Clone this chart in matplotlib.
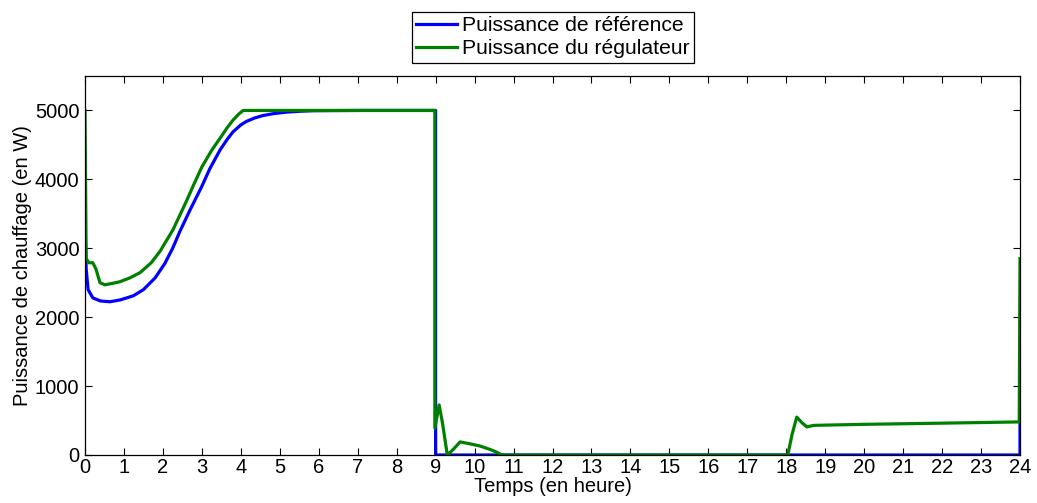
import matplotlib
matplotlib.use("Agg")
import matplotlib.pyplot as plt

# Données (temps en heure, puissance en W)
t_ref = [0, 0.03, 0.08, 0.2, 0.4, 0.64, 0.9, 1.24, 1.5, 1.8, 2.05, 2.25, 2.44, 2.7,
         3.0, 3.2, 3.47, 3.65, 3.8, 4.0, 4.14, 4.35, 4.56, 4.85, 5.16, 5.5, 5.85, 7.0,
         9.0, 9.0, 24.0, 24.0]
p_ref = [3400, 2700, 2400, 2280, 2235, 2224, 2250, 2310, 2400, 2570, 2780, 3000, 3250, 3560,
         3900, 4150, 4430, 4580, 4690, 4790, 4840, 4890, 4925, 4955, 4975, 4988, 4996, 5000,
         5000, 0, 0, 480]

t_reg = [0, 0.03, 0.1, 0.2, 0.28, 0.385, 0.51, 0.7, 0.9, 1.15, 1.41, 1.7, 1.93, 2.26,
         2.6, 2.82, 3.0, 3.25, 3.47, 3.65, 3.8, 3.95, 4.06, 8.98, 8.98, 9.09, 9.18, 9.3,
         9.45, 9.63, 9.9, 10.14, 10.4, 10.57, 10.7, 18.0, 18.04, 18.15, 18.27, 18.4, 18.53,
         18.7, 20.0, 22.0, 23.98, 24.0]
p_reg = [5000, 2850, 2790, 2790, 2700, 2500, 2470, 2490, 2515, 2570, 2645, 2790, 2960, 3270,
         3680, 3960, 4180, 4420, 4600, 4750, 4860, 4950, 5000, 5000, 390, 727, 450, 0,
         80, 190, 160, 130, 80, 40, 0, 0, 0, 300, 550, 470, 407,
         430, 445, 462, 480, 2850]

x_ticks = list(range(0, 25))
y_ticks = [0, 1000, 2000, 3000, 4000, 5000]

plt.rcParams['font.family'] = ['Liberation Sans', 'DejaVu Sans']
plt.rcParams['font.size'] = 14.5

fig = plt.figure(figsize=(10.37, 5.03), dpi=100)
ax = fig.add_axes([85 / 1037, 1 - 455 / 503, 935 / 1037, 379 / 503])

ax.plot(t_ref, p_ref, color=(0, 0, 1), lw=2.3, label="Puissance de référence")
ax.plot(t_reg, p_reg, color=(0, 0.5, 0), lw=2.3, label="Puissance du régulateur")

ax.set_xlim(0, 24)
ax.set_ylim(0, 5500)
ax.set_xticks(x_ticks)
ax.set_yticks(y_ticks)
ax.tick_params(direction="in", top=True, right=True, length=5, width=0.8)
ax.tick_params(axis="x", pad=2)
ax.tick_params(axis="y", pad=4)
for s in ax.spines.values():
    s.set_linewidth(0.9)

ax.set_xlabel("Temps (en heure)", labelpad=0)
ax.set_ylabel("Puissance de chauffage (en W)", labelpad=2)

leg = fig.legend(loc="upper center", bbox_to_anchor=(553 / 1037, 1 - 12 / 503),
                 fancybox=False, edgecolor="black", framealpha=1, fontsize=15.2,
                 handlelength=1.9, handletextpad=0.25, borderpad=0.2,
                 labelspacing=0.2, borderaxespad=0)
leg.get_frame().set_linewidth(0.9)

fig.savefig("out.png", dpi=100)
